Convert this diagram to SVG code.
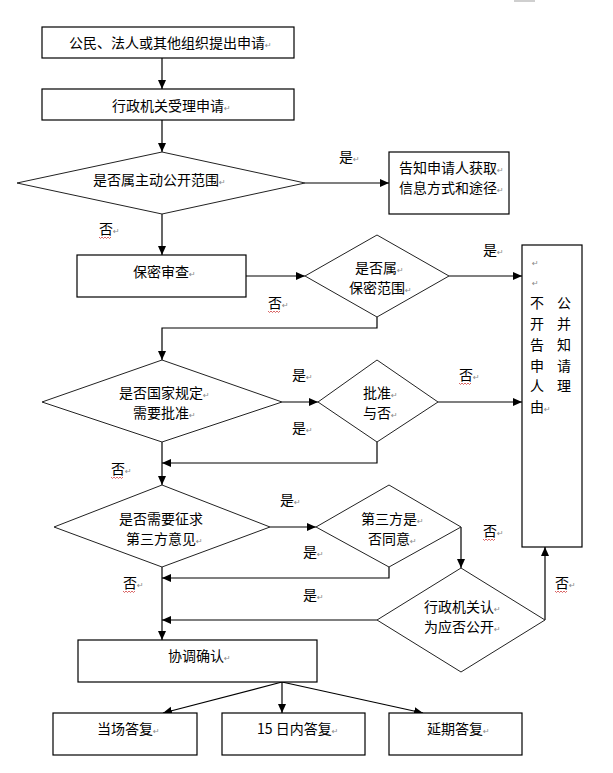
<svg xmlns="http://www.w3.org/2000/svg" width="613" height="773" viewBox="0 0 613 773">
<style>
.bx{fill:#fff;stroke:#000;stroke-width:1.2}
.dm{fill:#fff;stroke:#222;stroke-width:1}
.t{font-family:"Noto Sans CJK SC","Noto Sans CJK JP",sans-serif;font-size:14px;fill:#000}
.pm{font-family:"DejaVu Sans",sans-serif;font-size:8px;fill:#888}
.c{fill:none;stroke:#000;stroke-width:1.2}
.wv{fill:none;stroke:#d04040;stroke-width:0.8}
</style>
<defs>
<marker id="ah" markerUnits="userSpaceOnUse" markerWidth="10" markerHeight="9" refX="9" refY="4" orient="auto">
<path d="M0,0 L9,4 L0,8 z" fill="#000"/>
</marker>
<path id="wave" d="M0,0 l1.5,1.5 l1.5,-1.5 l1.5,1.5 l1.5,-1.5 l1.5,1.5 l1.5,-1.5 l1.5,1.5 l1.5,-1.5" class="wv"/>
</defs>
<rect width="613" height="773" fill="#fff"/>
<rect x="514" y="0" width="21" height="2" fill="#cfcfcf"/>

<g id="connectors">
<path class="c" marker-end="url(#ah)" d="M162,58 V89"/>
<path class="c" marker-end="url(#ah)" d="M162,120 V152"/>
<path class="c" marker-end="url(#ah)" d="M305,183 H389"/>
<path class="c" marker-end="url(#ah)" d="M162,214 V255"/>
<path class="c" marker-end="url(#ah)" d="M246,276 H305"/>
<path class="c" marker-end="url(#ah)" d="M449,276 H522"/>
<path class="c" marker-end="url(#ah)" d="M377,317 V328 H162 V360"/>
<path class="c" marker-end="url(#ah)" d="M282,402 H318"/>
<path class="c" marker-end="url(#ah)" d="M438,402 H522"/>
<path class="c" marker-end="url(#ah)" d="M377,442 V463 H162"/>
<path class="c" marker-end="url(#ah)" d="M162,442 V485"/>
<path class="c" marker-end="url(#ah)" d="M270,527 H316"/>
<path class="c" marker-end="url(#ah)" d="M389,567 V578 H162"/>
<path class="c" marker-end="url(#ah)" d="M461,527 V568"/>
<path class="c" marker-end="url(#ah)" d="M377,620 H162"/>
<path class="c" marker-end="url(#ah)" d="M545,620 V547"/>
<path class="c" marker-end="url(#ah)" d="M162,567 V640"/>
<path class="c" marker-end="url(#ah)" d="M282,682 L163,713"/>
<path class="c" marker-end="url(#ah)" d="M282,682 V713"/>
<path class="c" marker-end="url(#ah)" d="M282,682 L423,713"/>
</g>

<g id="n-apply">
<rect class="bx" x="42" y="27" width="252" height="31"/>
<text class="t" x="69" y="48">公民、法人或其他组织提出申请<tspan class="pm">↵</tspan></text>
</g>
<g id="n-accept">
<rect class="bx" x="42" y="89" width="252" height="31"/>
<text class="t" x="112" y="111">行政机关受理申请<tspan class="pm">↵</tspan></text>
</g>
<g id="d-public">
<polygon class="dm" points="17,183 162,152 305,183 162,214"/>
<text class="t" x="93" y="185">是否属主动公开范围<tspan class="pm">↵</tspan></text>
</g>
<g id="n-inform">
<rect class="bx" x="389" y="152" width="120" height="62"/>
<text class="t" x="399" y="173">告知申请人获取<tspan class="pm">↵</tspan></text>
<text class="t" x="399" y="193">信息方式和途径<tspan class="pm">↵</tspan></text>
</g>
<g id="n-secret-review">
<rect class="bx" x="77" y="255" width="169" height="42"/>
<text class="t" x="133" y="277">保密审查<tspan class="pm">↵</tspan></text>
</g>
<g id="d-secret">
<polygon class="dm" points="305,276 377,235 449,276 377,317"/>
<text class="t" x="355" y="273">是否属<tspan class="pm">↵</tspan></text>
<text class="t" x="349" y="293">保密范围<tspan class="pm">↵</tspan></text>
</g>
<g id="n-refuse">
<rect class="bx" x="522" y="245" width="60" height="302"/>
<text class="pm" x="532" y="266">↵</text>
<text class="pm" x="532" y="286">↵</text>
<text class="t" x="530" y="308">不</text>
<text class="t" x="530" y="329">开</text>
<text class="t" x="530" y="350">告</text>
<text class="t" x="530" y="371">申</text>
<text class="t" x="530" y="391">人</text>
<text class="t" x="530" y="412">由<tspan class="pm">↵</tspan></text>
<text class="t" x="557" y="308">公</text>
<text class="t" x="557" y="329">并</text>
<text class="t" x="557" y="350">知</text>
<text class="t" x="557" y="371">请</text>
<text class="t" x="557" y="391">理</text>
</g>
<g id="d-approval-needed">
<polygon class="dm" points="42,402 162,360 282,402 162,442"/>
<text class="t" x="119" y="398">是否国家规定<tspan class="pm">↵</tspan></text>
<text class="t" x="133" y="418">需要批准<tspan class="pm">↵</tspan></text>
</g>
<g id="d-approved">
<polygon class="dm" points="318,402 377,360 438,402 377,442"/>
<text class="t" x="363" y="398">批准<tspan class="pm">↵</tspan></text>
<text class="t" x="363" y="418">与否<tspan class="pm">↵</tspan></text>
</g>
<g id="d-third-party-needed">
<polygon class="dm" points="54,527 162,485 270,527 162,567"/>
<text class="t" x="119" y="524">是否需要征求</text>
<text class="t" x="126" y="544">第三方意见<tspan class="pm">↵</tspan></text>
</g>
<g id="d-third-party-agree">
<polygon class="dm" points="316,527 389,485 461,527 389,567"/>
<text class="t" x="361" y="524">第三方是<tspan class="pm">↵</tspan></text>
<text class="t" x="368" y="544">否同意<tspan class="pm">↵</tspan></text>
</g>
<g id="d-agency-decide">
<polygon class="dm" points="377,620 461,568 545,620 461,672"/>
<text class="t" x="424" y="612">行政机关认<tspan class="pm">↵</tspan></text>
<text class="t" x="424" y="632">为应否公开<tspan class="pm">↵</tspan></text>
</g>
<g id="n-coordinate">
<rect class="bx" x="78" y="640" width="239" height="42"/>
<text class="t" x="168" y="661">协调确认<tspan class="pm">↵</tspan></text>
</g>
<g id="n-reply-now">
<rect class="bx" x="53" y="713" width="144" height="42"/>
<text class="t" x="97" y="734">当场答复<tspan class="pm">↵</tspan></text>
</g>
<g id="n-reply-15">
<rect class="bx" x="222" y="713" width="143" height="42"/>
<text class="t" x="257" y="734">15 日内答复<tspan class="pm">↵</tspan></text>
</g>
<g id="n-reply-later">
<rect class="bx" x="389" y="713" width="133" height="42"/>
<text class="t" x="427" y="734">延期答复<tspan class="pm">↵</tspan></text>
</g>

<g id="labels">
<text class="t" x="339" y="162">是<tspan class="pm">↵</tspan></text>
<text class="t" x="99" y="234">否<tspan class="pm">↵</tspan></text>
<use href="#wave" x="99" y="237"/>
<text class="t" x="483" y="255">是<tspan class="pm">↵</tspan></text>
<text class="t" x="268" y="308">否<tspan class="pm">↵</tspan></text>
<use href="#wave" x="268" y="311"/>
<text class="t" x="292" y="380">是<tspan class="pm">↵</tspan></text>
<text class="t" x="459" y="380">否<tspan class="pm">↵</tspan></text>
<use href="#wave" x="459" y="383"/>
<text class="t" x="292" y="433">是<tspan class="pm">↵</tspan></text>
<text class="t" x="111" y="474">否<tspan class="pm">↵</tspan></text>
<use href="#wave" x="111" y="477"/>
<text class="t" x="280" y="505">是<tspan class="pm">↵</tspan></text>
<text class="t" x="483" y="536">否<tspan class="pm">↵</tspan></text>
<use href="#wave" x="483" y="539"/>
<text class="t" x="303" y="557">是<tspan class="pm">↵</tspan></text>
<text class="t" x="123" y="588">否<tspan class="pm">↵</tspan></text>
<use href="#wave" x="123" y="591"/>
<text class="t" x="555" y="588">否<tspan class="pm">↵</tspan></text>
<use href="#wave" x="555" y="591"/>
<text class="t" x="303" y="600">是<tspan class="pm">↵</tspan></text>
</g>
</svg>
